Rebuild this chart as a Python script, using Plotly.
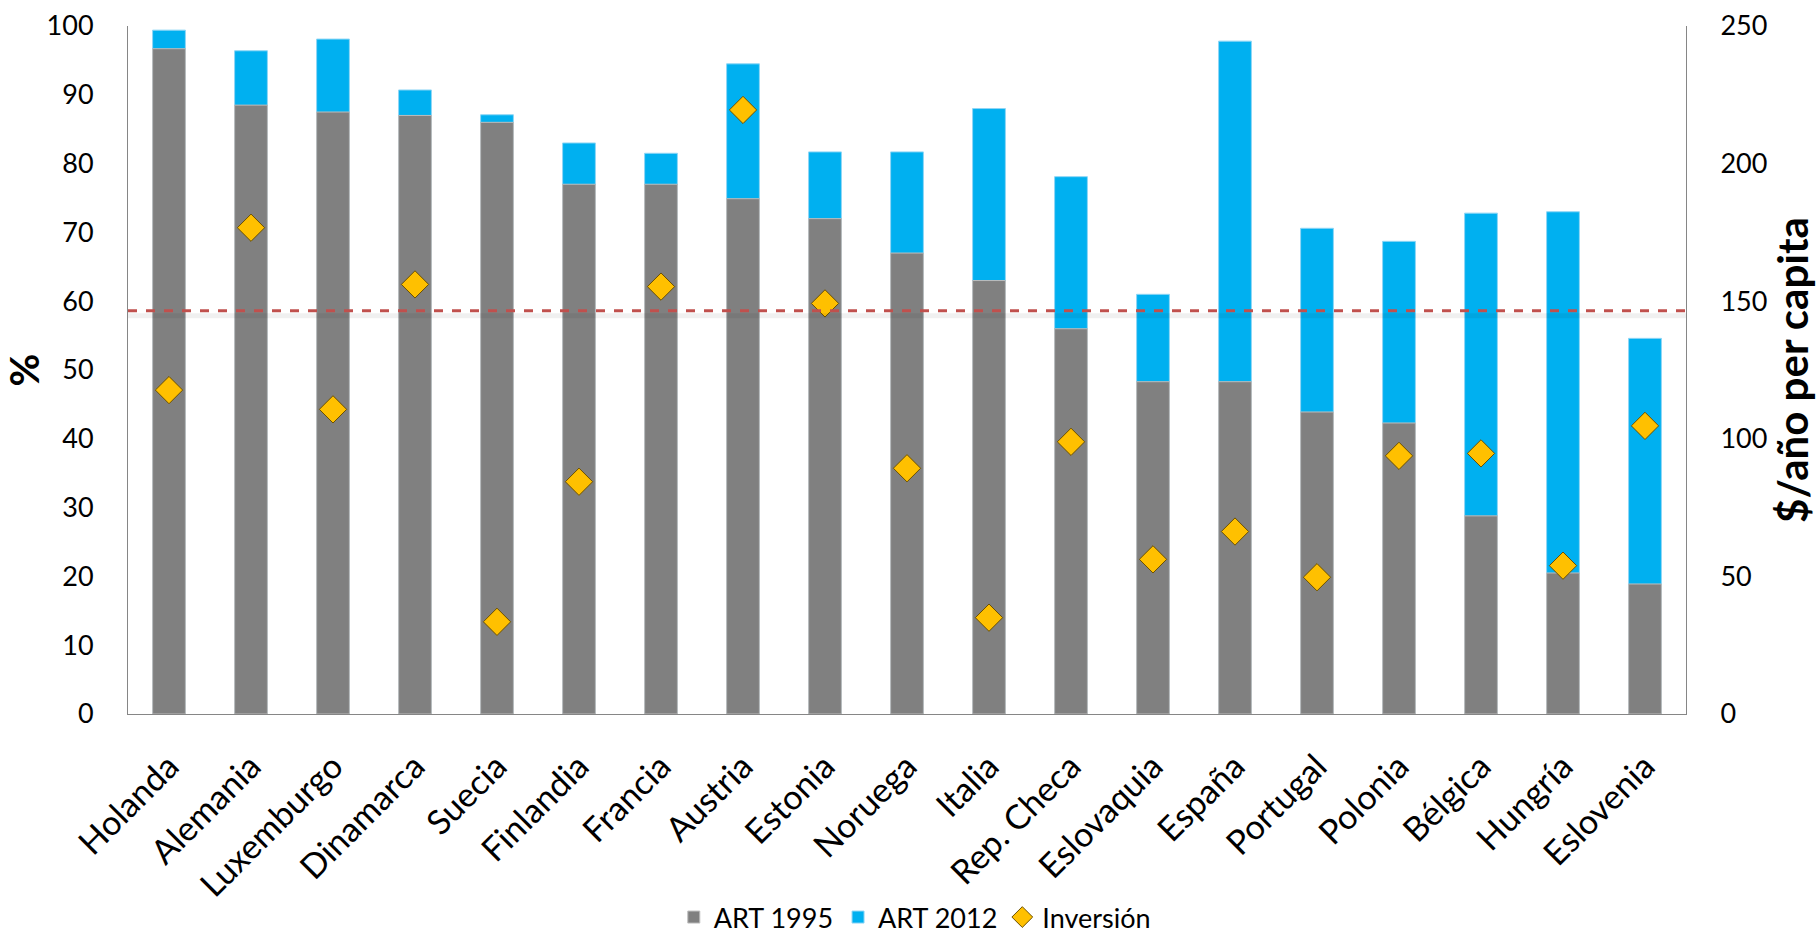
import plotly.graph_objects as go

countries = ["Holanda", "Alemania", "Luxemburgo", "Dinamarca", "Suecia", "Finlandia",
             "Francia", "Austria", "Estonia", "Noruega", "Italia", "Rep. Checa",
             "Eslovaquia", "España", "Portugal", "Polonia", "Bélgica", "Hungría", "Eslovenia"]
art_1995 = [96.7, 88.5, 87.5, 87.0, 86.0, 77.0, 77.0, 74.9, 72.0, 67.0, 63.0, 56.0,
            48.3, 48.3, 43.9, 42.3, 28.8, 20.5, 18.9]
art_2012 = [99.4, 96.4, 98.1, 90.7, 87.1, 83.0, 81.5, 94.5, 81.7, 81.7, 88.0, 78.1,
            61.0, 97.8, 70.6, 68.7, 72.8, 73.0, 54.6]
inversion = [117.7, 176.7, 110.7, 156.1, 33.5, 84.4, 155.3, 219.5, 149.2, 89.3, 35.0, 98.9,
             56.2, 66.3, 49.7, 93.8, 94.7, 53.9, 104.7]
ref_line = 58.6

FONT = "Lato"
AXIS_COLOR = "#868686"

fig = go.Figure()
fig.add_trace(go.Bar(
    x=countries, y=art_2012, name="ART 2012", legendrank=2,
    marker=dict(color="#00B0F0", line=dict(color="#8fd6f5", width=1)),
))
fig.add_trace(go.Bar(
    x=countries, y=art_1995, name="ART 1995", legendrank=1,
    marker=dict(color="#808080", line=dict(color="#bdbdbd", width=1)),
))
fig.add_trace(go.Scatter(
    x=countries, y=inversion, name="Inversión", mode="markers", yaxis="y2", legendrank=3,
    marker=dict(symbol="diamond", size=21, color="#FFC000", line=dict(color="#6b5000", width=1)),
))

# reference line (with a faint shadow)
fig.add_shape(type="line", xref="paper", x0=0, x1=1, yref="y", y0=ref_line - 0.7, y1=ref_line - 0.7,
              line=dict(color="rgba(0,0,0,0.06)", width=5), layer="above")
fig.add_shape(type="line", xref="paper", x0=0, x1=1, yref="y", y0=ref_line, y1=ref_line,
              line=dict(color="#C0504D", width=3, dash="dash"), layer="above")

fig.update_layout(
    width=1818, height=942,
    margin=dict(l=128, r=132, t=26, b=228, autoexpand=False),
    paper_bgcolor="white", plot_bgcolor="white",
    barmode="overlay", bargap=0.6,
    font=dict(family=FONT, size=26, color="#000000"),
    showlegend=True,
    legend=dict(orientation="h", x=0.505, xanchor="center", xref="paper",
                y=-0.004, yanchor="bottom", yref="container",
                font=dict(size=27, family=FONT), itemwidth=30, tracegroupgap=0),
    xaxis=dict(showline=True, linecolor=AXIS_COLOR, linewidth=1, tickangle=-45,
               range=[-0.5, len(countries) - 0.5], automargin=False,
               ticks="", showgrid=False, ticklabelstandoff=18,
               tickfont=dict(size=34, family=FONT)),
    yaxis=dict(range=[0, 100], dtick=10, showline=True, linecolor=AXIS_COLOR, linewidth=1,
               showgrid=False, zeroline=False, ticks="", ticklabelstandoff=28, automargin=False,
               tickfont=dict(size=27, family=FONT),
               title=dict(text="%", standoff=14, font=dict(size=40, family=FONT, weight="bold"))),
    yaxis2=dict(range=[0, 250], dtick=50, overlaying="y", side="right", showline=True,
                linecolor=AXIS_COLOR, linewidth=1, showgrid=False, zeroline=False, ticks="",
                ticklabelstandoff=28, tickfont=dict(size=27, family=FONT), automargin=False,
                title=dict(text="$/año per capita", standoff=12,
                           font=dict(size=42, family=FONT, weight="bold"))),
)

fig.write_html("out.html", config={"displayModeBar": False},
               post_script="document.body.style.margin='0';document.body.style.overflow='hidden';")
